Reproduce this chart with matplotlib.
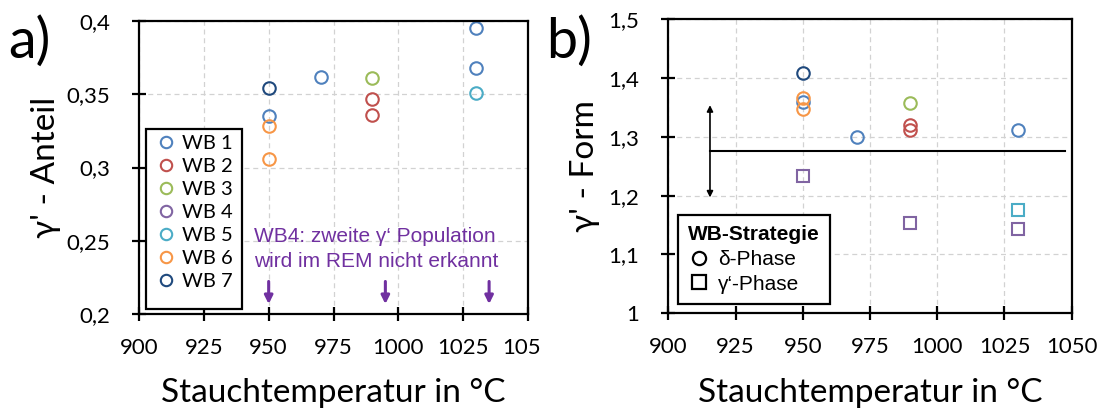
import matplotlib
matplotlib.use("Agg")
import matplotlib.pyplot as plt
from matplotlib.lines import Line2D
from matplotlib.patches import Rectangle
from matplotlib.transforms import Bbox

# ---- data -------------------------------------------------------------
wb_names = ["WB 1", "WB 2", "WB 3", "WB 4", "WB 5", "WB 6", "WB 7"]
wb_colors = ["#4F81BD", "#C0504D", "#9BBB59", "#8064A2", "#4BACC6", "#F79646", "#1F497D"]

# gamma' fraction vs. upsetting temperature
anteil_x = [[950, 970, 1030, 1030], [990, 990], [990], [], [1030], [950, 950], [950]]
anteil_y = [[0.335, 0.362, 0.395, 0.368], [0.347, 0.336], [0.361], [], [0.351], [0.328, 0.306], [0.354]]

# gamma' shape factor, strategy delta phase (circles)
form_delta_x = [[950, 970, 1030], [990, 990], [990], [], [], [950, 950], [950]]
form_delta_y = [[1.359, 1.300, 1.311], [1.320, 1.311], [1.358], [], [], [1.367, 1.347], [1.408]]
# gamma' shape factor, strategy gamma' phase (squares)
form_gamma_x = [[], [], [], [950, 990, 1030], [1030], [], []]
form_gamma_y = [[], [], [], [1.233, 1.154, 1.143], [1.175], [], []]

x_ticks = [900, 925, 950, 975, 1000, 1025, 1050]
anteil_ticks = [0.2, 0.25, 0.3, 0.35, 0.4]
anteil_ticklabels = ["0,2", "0,25", "0,3", "0,35", "0,4"]
form_ticks = [1.0, 1.1, 1.2, 1.3, 1.4, 1.5]
form_ticklabels = ["1", "1,1", "1,2", "1,3", "1,4", "1,5"]

missing_arrow_x = [950, 995, 1035]
threshold_form = 1.2755
threshold_span = [915.5, 1047.5]
spread_arrow = [1.197, 1.354]

# ---- styling ----------------------------------------------------------
FONT = ["Lato", "DejaVu Sans"]
ARIAL = ["Liberation Sans", "DejaVu Sans"]
plt.rcParams["font.family"] = FONT
PURPLE = "#7030A0"
MS = 9.0
MEW = 1.5
W, H = 1106, 412

fig = plt.figure(figsize=(W / 100, H / 100), dpi=100)
ax1 = fig.add_axes([139 / W, 1 - 314 / H, 389 / W, 293 / H])
ax2 = fig.add_axes([668.3 / W, 1 - 313.3 / H, 403.4 / W, 294 / H])


def style_axes(ax, yticks, yticklabels, ylim):
    ax.set_xlim(900, 1050)
    ax.set_ylim(*ylim)
    ax.set_xticks(x_ticks)
    ax.set_xticklabels([str(t) for t in x_ticks])
    ax.set_yticks(yticks)
    ax.set_yticklabels(yticklabels)
    ax.grid(True, color="#D2D2D2", linestyle=(0, (4, 3)), linewidth=0.9)
    ax.set_axisbelow(True)
    for sp in ax.spines.values():
        sp.set_linewidth(1.6)
        sp.set_color("black")
    ax.tick_params(axis="both", direction="inout", length=10, width=1.6,
                   labelsize=16, colors="black")
    ax.tick_params(axis="x", pad=12)
    ax.tick_params(axis="y", pad=16)
    ax.set_xlabel("Stauchtemperatur in °C", fontsize=24, labelpad=15)


def px_to_axes(ax, x, y):
    """Figure pixel (origin top-left) to axes fraction."""
    return ax.transAxes.inverted().transform(
        fig.transFigure.transform((x / W, (H - y) / H)))


# ---- panel a) -----------------------------------------------------------
style_axes(ax1, anteil_ticks, anteil_ticklabels, (0.2, 0.4))
ax1.set_ylabel("γ' - Anteil", fontsize=24, labelpad=4)
for name, col, xs, ys in zip(wb_names, wb_colors, anteil_x, anteil_y):
    ax1.plot(xs, ys, linestyle="none", marker="o", ms=MS, mew=MEW,
             mfc="none", mec=col, label=name, clip_on=False)

# legend box of panel a)
(bx0, by1) = px_to_axes(ax1, 145.7, 129)
(bx1, by0) = px_to_axes(ax1, 241.7, 309.3)
ax1.add_patch(Rectangle((bx0, by0), bx1 - bx0, by1 - by0, transform=ax1.transAxes,
                        facecolor="white", edgecolor="black", lw=1.6, zorder=4))
handles = [Line2D([], [], linestyle="none", marker="o", ms=8.2, mew=MEW,
                  mfc="none", mec=c) for c in wb_colors]
leg1 = ax1.legend(handles, wb_names, loc="upper left", bbox_to_anchor=(bx0, by1),
                  borderaxespad=0, fontsize=14.5, frameon=False,
                  labelspacing=0.29, handletextpad=0.05, borderpad=0.3,
                  handlelength=1.45)
leg1.set_zorder(5)

ax1.text(944.5, 0.2532, "WB4: zweite γ‘ Population", color=PURPLE, fontsize=15,
         family=ARIAL, va="center", ha="left")
ax1.text(944.5, 0.2357, "wird im REM nicht erkannt", color=PURPLE, fontsize=15,
         family=ARIAL, va="center", ha="left")
for xa in missing_arrow_x:
    ax1.annotate("", xy=(xa, 0.2068), xytext=(xa, 0.2222),
                 arrowprops=dict(arrowstyle="-|>", color=PURPLE, lw=2.2,
                                 mutation_scale=12, shrinkA=0, shrinkB=0))

fig.text(8 / W, 1 - 42 / H, "a)", fontsize=40, va="center", ha="left")

# ---- panel b) -----------------------------------------------------------
style_axes(ax2, form_ticks, form_ticklabels, (1.0, 1.5))
ax2.set_ylabel("γ' - Form", fontsize=24, labelpad=6)
for col, xs, ys in zip(wb_colors, form_delta_x, form_delta_y):
    ax2.plot(xs, ys, linestyle="none", marker="o", ms=MS, mew=MEW, mfc="none", mec=col)
for col, xs, ys in zip(wb_colors, form_gamma_x, form_gamma_y):
    ax2.plot(xs, ys, linestyle="none", marker="s", ms=MS - 0.6, mew=MEW, mfc="none", mec=col)

ax2.plot(threshold_span, [threshold_form, threshold_form], color="black", lw=1.5)
ax2.annotate("", xy=(threshold_span[0], spread_arrow[0]),
             xytext=(threshold_span[0], spread_arrow[1]),
             arrowprops=dict(arrowstyle="<|-|>", color="black", lw=1.2,
                             mutation_scale=9, shrinkA=0, shrinkB=0))

(lx0, ly1) = px_to_axes(ax2, 677.7, 215)
strat_handles = [Line2D([], [], linestyle="none", marker="o", ms=9.5, mew=1.6, mfc="none", mec="black"),
                 Line2D([], [], linestyle="none", marker="s", ms=9.5, mew=1.6, mfc="none", mec="black")]
leg2 = ax2.legend(strat_handles, ["δ-Phase", "γ‘-Phase"], title="WB-Strategie",
                  loc="upper left", bbox_to_anchor=(lx0, ly1), borderaxespad=0,
                  prop={"family": ARIAL, "size": 15}, frameon=True, fancybox=False,
                  framealpha=1.0, labelspacing=0.27, handletextpad=0.45, borderpad=0.5,
                  handlelength=1.0, edgecolor="black", alignment="left",
                  title_fontproperties={"family": ARIAL, "size": 15, "weight": "bold"})
leg2.get_frame().set_linewidth(1.6)

fig.text(546 / W, 1 - 42 / H, "b)", fontsize=40, va="center", ha="left")

# the last x tick label of panel a) is cut by the neighbouring panel
fig.canvas.draw()
last_lbl = ax1.get_xticklabels()[-1]
last_lbl.set_clip_on(True)
last_lbl.set_clip_box(Bbox.from_extents(0, 0, 541, H))

fig.savefig("out.png", dpi=100)
